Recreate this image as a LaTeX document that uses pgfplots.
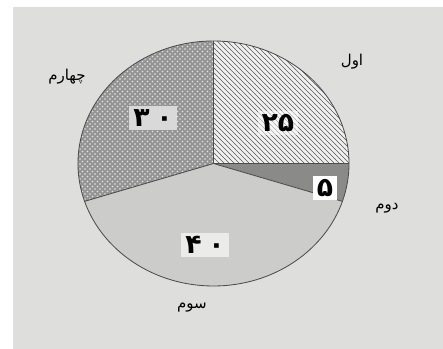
\documentclass[border=0pt]{standalone}
\usepackage{pgfplots}
\pgfplotsset{compat=1.18}
\usepackage{pgfplotstable}
\usetikzlibrary{patterns}
\usepackage{fontspec}
\TeXXeTstate=1
\newfontfamily\arabicfont[Script=Arabic]{DejaVu Sans}

% slice values, clockwise from the top
\pgfplotstableread{
value
25
5
40
30
}\piedata

\definecolor{bg}{RGB}{222,222,220}
\definecolor{lightslice}{RGB}{204,204,202}
\definecolor{darkslice}{RGB}{138,138,136}

% one slice of the pie, #1 = slice index
\newcommand\slice[1]{(axis cs:213.5,185.5) -- ++(\csname sa#1\endcsname:81.3pt and 73.5pt)
  arc[start angle=\csname sa#1\endcsname, end angle=\csname ea#1\endcsname, x radius=81.3pt, y radius=73.5pt] -- cycle}

\begin{document}
\begin{tikzpicture}
% start / end angle of each slice
\def\acc{90}
\pgfplotsforeachungrouped \i in {0,1,2,3}{%
  \pgfplotstablegetelem{\i}{value}\of\piedata
  \pgfmathsetmacro\nxt{\acc-3.6*\pgfplotsretval}%
  \expandafter\xdef\csname sa\i\endcsname{\acc}%
  \expandafter\xdef\csname ea\i\endcsname{\nxt}%
  \let\acc\nxt
}
\begin{axis}[
  scale only axis,
  width=265.8pt, height=209.4pt,
  xmin=0, xmax=443, ymin=0, ymax=349,
  hide axis, clip=false,
]
\fill[white] (axis cs:0,0) rectangle (axis cs:443,349);
\fill[bg] (axis cs:13,0) rectangle (axis cs:443,342);

% slice 1: hatched
\fill[white!94!black] \slice{0};
\fill[pattern=north west lines, pattern color=black!65] \slice{0};
% slice 2: dark
\fill[darkslice] \slice{1};
% slice 3: light grey
\fill[lightslice] \slice{2};
% slice 4: dotted grid
\fill[black!42] \slice{3};
\fill[pattern=crosshatch dots, pattern color=white!90!black] \slice{3};

% outlines
\draw[black!70, line width=0.5pt] (axis cs:213.5,185.5) -- ++(\csname sa0\endcsname:81.3pt and 73.5pt);
\draw[black!70, line width=0.5pt] (axis cs:213.5,185.5) -- ++(\csname sa1\endcsname:81.3pt and 73.5pt);
\draw[black!70, line width=0.5pt] (axis cs:213.5,185.5) -- ++(\csname sa2\endcsname:81.3pt and 73.5pt);
\draw[black!70, line width=0.5pt] (axis cs:213.5,185.5) -- ++(\csname sa3\endcsname:81.3pt and 73.5pt);
\draw[black!70, line width=0.5pt] (axis cs:213.5,185.5) ellipse[x radius=81.3pt, y radius=73.5pt];

% values
\tikzset{val/.style={fill=white, inner xsep=2.5pt, inner ysep=2pt, font=\arabicfont\bfseries\fontsize{16}{16}\selectfont}}
\node[val, fill opacity=0.5, text opacity=1] at (axis cs:278,226) {\beginR\beginL ۲۵\endL\endR};
\node[val] at (axis cs:325,161) {\beginR ۵\endR};
\node[val, fill=white!60!lightslice] at (axis cs:205,104) {\beginR\beginL ۴\kern4pt۰\endL\endR};
\node[val, fill=white!85!black] at (axis cs:153,231) {\beginR\beginL ۳\kern4pt۰\endL\endR};

% names
\tikzset{nm/.style={font=\arabicfont\fontsize{9}{10}\selectfont, inner sep=0pt}}
\node[nm] at (axis cs:352,287) {\beginR اول\endR};
\node[nm] at (axis cs:387,141) {\beginR دوم\endR};
\node[nm] at (axis cs:192,41) {\beginR سوم\endR};
\node[nm] at (axis cs:67,272) {\beginR چهارم\endR};
\end{axis}
\end{tikzpicture}
\end{document}
